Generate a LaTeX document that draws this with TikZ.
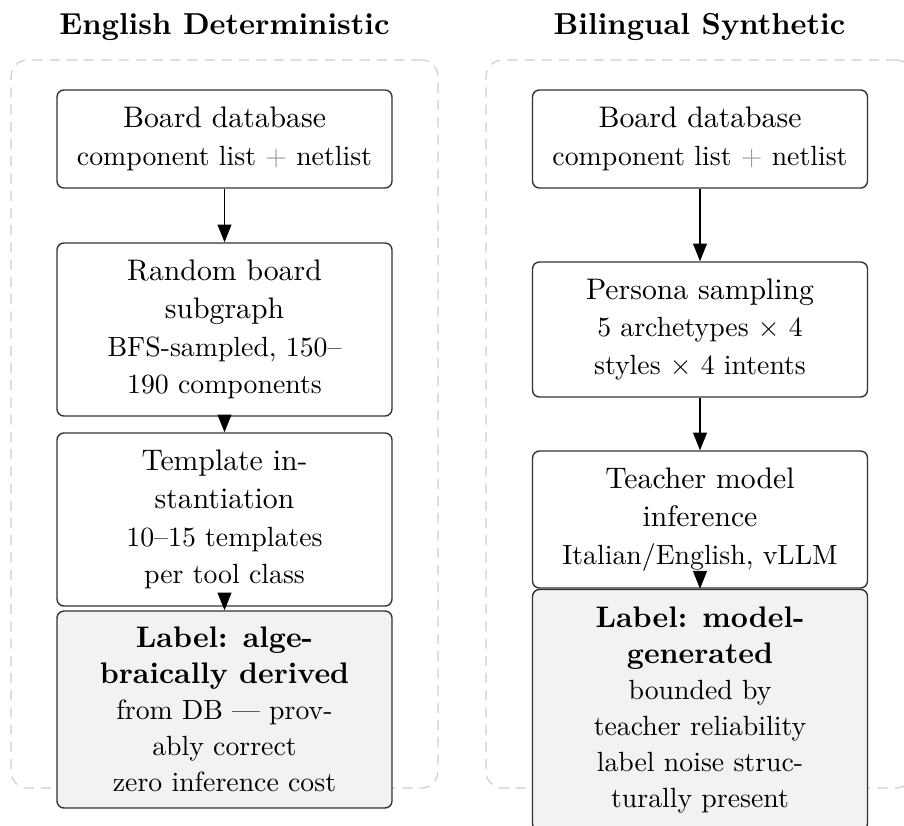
\documentclass[tikz,border=0pt]{standalone}
\usetikzlibrary{arrows.meta}
% smaller type for the detail lines inside a step box
\newcommand{\dline}[1]{{\fontsize{10}{13.6}\selectfont #1}}

\begin{document}
\begin{tikzpicture}[x=0.36pt,y=-0.36pt,
  stepbox/.style={draw=black!80, fill=white, line width=0.5pt, rounded corners=2.5pt,
    align=center, minimum width=120.6pt, inner sep=3pt,
    font=\fontsize{10.7}{13.6}\selectfont},
  labelbox/.style={stepbox, fill=gray!10, font=\fontsize{10.7}{12.95}\selectfont},
  flow/.style={-{Triangle[length=6.4pt,width=5pt]}, line width=0.45pt},
  groupbox/.style={draw=black!20, dash pattern=on 3.6pt off 2.6pt, line width=0.4pt,
    rounded corners=6pt, minimum width=153.7pt, minimum height=262.1pt, inner sep=0pt},
  header/.style={font=\fontsize{10.9}{13}\selectfont\bfseries, anchor=base}]

\useasboundingbox (0,0) rectangle (904,825);

% dashed group frames
\node[groupbox] (gl) at (224.5,424) {};
\node[groupbox] (gr) at (699.5,424) {};

% column headers
\node[header] (hl) at (224.5,35) {English Deterministic};
\node[header] (hr) at (699.5,35) {Bilingual Synthetic};

% left pipeline
\node[stepbox, minimum height=35.3pt] (l1) at (224.5,139)
  {Board database\\ \dline{component list \textcolor{black!40}{$+$} netlist}};
\node[stepbox, minimum height=62.3pt] (l2) at (224.5,329.5)
  {Random board\\ subgraph\\ \dline{BFS-sampled, 150--}\\ \dline{190 components}};
\node[stepbox, minimum height=62.3pt] (l3) at (224.5,519.5)
  {Template in-\\ stantiation\\ \dline{10--15 templates}\\ \dline{per tool class}};
\node[labelbox, minimum height=70.9pt] (l4) at (224.5,709.5)
  {\textbf{Label: alge-}\\ \textbf{braically derived}\\ \dline{from DB --- prov-}\\
   \dline{ably correct}\\ \dline{zero inference cost}};

% right pipeline
\node[stepbox, minimum height=35.3pt] (r1) at (700,139)
  {Board database\\ \dline{component list \textcolor{black!40}{$+$} netlist}};
\node[stepbox, minimum height=48.6pt] (r2) at (700,329.5)
  {Persona sampling\\ \dline{5 archetypes $\times$ 4}\\ \dline{styles $\times$ 4 intents}};
\node[stepbox, minimum height=49.3pt] (r3) at (700,519.5)
  {Teacher model\\ inference\\ \dline{Italian/English, vLLM}};
\node[labelbox, minimum height=86.8pt] (r4) at (700,710)
  {\textbf{Label: model-}\\ \textbf{generated}\\ \dline{bounded by}\\
   \dline{teacher reliability}\\ \dline{label noise struc-}\\ \dline{turally present}};

% connectors; where two boxes nearly touch, the head reaches back into the upper box
\draw[flow] (l1.south) -- (l2.north);
\draw[flow] (l2.south) -- (l3.north);
\draw[flow] ([yshift=4.6pt]l3.south) -- (l4.north);
\draw[flow] (r1.south) -- (r2.north);
\draw[flow] (r2.south) -- (r3.north);
\draw[flow] ([yshift=6pt]r3.south) -- (r4.north);
\end{tikzpicture}
\end{document}
